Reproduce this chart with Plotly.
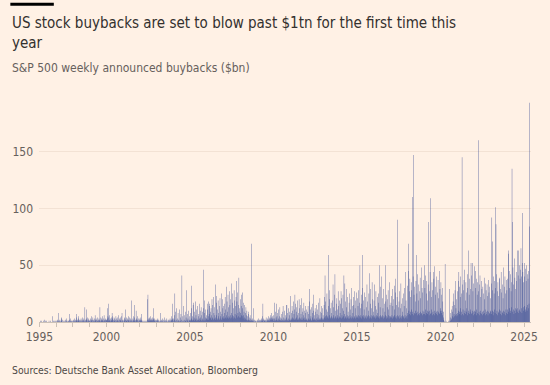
import pandas as pd
import plotly.graph_objects as go

# S&P 500 weekly announced buybacks ($bn), one value per week (Fridays)
wk_1996 = [0,0,0,1,0,0,1,0,0,0,0,1,0, 0,0,2,0,1,0,0,0,0,1,0,0,0, 0,0,0,1,0,0,0,1,0,0,0,0,0, 0,5,0,0,1,0,1,0,0,0,0,1,0]
wk_1997 = [0,1,0,1,2,0,8,1,0,1,0,2,0, 1,0,3,4,1,0,2,0,1,0,0,1,0, 0,1,0,2,0,1,3,0,1,0,0,1,0, 1,0,2,7,1,0,3,1,0,1,0,0,1]
wk_1998 = [1,0,2,1,3,0,1,2,0,1,4,7,1, 0,2,1,3,1,5,2,0,1,2,0,1,3, 1,0,2,1,4,0,2,1,3,0,1,13,2, 1,0,3,11,2,1,4,0,2,1,3,0,1]
wk_1999 = [1,2,0,3,1,5,2,1,0,2,4,1,0, 2,1,3,0,6,2,1,3,0,2,1,4,1, 0,2,1,3,1,2,13,1,0,4,2,1,3, 1,5,2,0,3,1,6,2,1,0,2,3,1,2]
wk_2000 = [2,1,12,3,5,1,16,4,1,6,2,3,1, 0,2,4,1,8,3,5,1,2,0,4,1,3, 1,0,2,5,1,3,0,2,1,4,0,1,6, 2,0,3,1,4,2,1,5,0,8,1,2,0]
wk_2001 = [1,0,2,4,1,3,11,2,0,1,4,1,2, 0,3,1,5,2,1,4,0,2,1,3,0,1, 19,2,0,1,3,5,1,2,15,1,4,0,2, 1,10,2,3,1,5,2,0,1,3,0,2,1]
wk_2002 = [3,1,2,4,1,7,2,1,0,0,1,0,0, 0,1,0,0,1,0,0,1,0,0,20,2,24, 3,1,2,4,1,3,2,1,5,2,1,3,2, 1,4,2,3,12,2,1,3,1,2,0,1,2]
wk_2003 = [1,0,2,1,3,0,1,2,0,1,0,1,0, 8,1,0,2,1,3,0,1,0,2,0,1,4, 0,1,0,2,0,1,3,0,1,0,2,0,1, 2,0,1,3,1,0,2,5,1,2,3,16,2]
wk_2004 = [1,3,0,6,2,25,1,0,9,2,0,12,1, 3,0,8,1,2,0,11,1,0,4,1,7,0, 2,41,1,0,5,1,14,0,2,6,0,1,9, 1,4,28,0,2,7,1,3,0,10,1,2,5,1]
wk_2005 = [2,8,1,32,3,12,2,5,1,15,17,2,4, 1,9,3,18,2,6,1,11,3,2,14,1,5, 2,7,1,16,3,10,2,4,13,1,6,2,9, 3,1,12,46,2,8,19,1,4,11,2,6,3]
wk_2006 = [3,11,2,16,5,18,2,7,14,16,3,9,4, 12,2,6,20,4,15,3,22,2,8,13,3,6, 4,33,2,23,6,17,3,11,2,19,5,8,3, 14,2,21,5,9,3,25,2,7,20,4,12,3]
wk_2007 = [5,14,3,16,8,22,4,11,3,31,6,18,4, 9,24,3,13,5,27,4,15,6,20,3,8,34, 4,17,6,25,3,12,5,28,4,19,7,14,3, 22,6,36,18,4,26,8,15,5,39,12,4,9]
wk_2008 = [8,20,4,14,6,24,5,12,26,3,17,6,9, 4,15,2,8,3,13,2,6,10,2,5,1,7, 2,9,1,4,2,6,1,3,1,2,69,1,3, 1,2,12,1,0,2,0,1,1,0,1,0,0]
wk_2009 = [1,0,2,1,0,3,1,0,2,1,0,1,2, 0,1,3,2,5,1,16,2,0,3,1,2,1, 0,2,1,4,1,0,2,3,1,2,5,1,2, 3,1,4,2,6,3,8,2,4,3,5,2,3]
wk_2010 = [1,6,1,3,17,2,9,1,4,16,2,5,1, 8,2,3,11,1,5,2,13,1,4,2,7,1, 3,1,9,2,14,1,4,2,10,1,3,6,2, 1,15,4,15,2,8,1,12,3,1,6,2,9,1]
wk_2011 = [2,23,3,8,2,14,4,10,2,18,3,7,2, 11,24,3,16,2,9,4,13,2,6,19,3,8, 2,20,4,12,2,15,3,7,2,21,4,9,2, 12,3,6,17,2,10,4,14,2,8,3,11,2]
wk_2012 = [2,9,1,14,3,7,2,18,29,2,11,3,5, 1,13,2,8,4,16,2,10,24,2,6,3,12, 2,9,1,15,3,7,2,11,4,17,2,6,3, 2,21,3,9,2,14,4,8,2,12,3,6,2]
wk_2013 = [3,15,4,22,41,5,18,3,11,6,25,4,9, 5,14,59,3,20,6,28,4,12,3,17,5,8, 4,19,3,33,6,13,4,24,3,42,5,10,4, 16,3,21,6,11,4,27,3,14,5,19,4,8]
wk_2014 = [4,16,27,3,21,6,12,4,24,5,10,41,3, 7,34,4,18,5,29,3,13,6,22,4,9,3, 5,17,3,25,6,11,4,20,3,30,5,14,4, 8,22,3,15,5,27,4,12,3,19,6,26,4]
wk_2015 = [5,21,4,14,6,28,3,17,5,50,4,12,6, 24,3,16,5,30,59,4,19,6,11,3,26,5, 4,22,6,13,3,33,5,18,4,10,6,25,3, 43,5,16,4,29,6,12,3,35,5,20,4,9]
wk_2016 = [6,19,4,33,5,14,3,27,6,11,4,22,5, 8,25,4,17,5,50,3,13,6,31,4,40,5, 4,21,6,12,3,29,5,16,4,9,50,6,18, 3,24,5,13,4,20,28,6,11,3,35,5,15,4]
wk_2017 = [5,17,4,23,6,29,3,14,5,20,4,32,6, 11,4,26,38,5,15,3,22,6,90,4,13,5, 18,3,27,6,12,4,34,5,16,3,21,6,9, 4,25,5,14,3,30,6,44,4,19,5,12,3]
wk_2018 = [8,32,6,45,69,10,27,7,38,9,22,6,35, 11,28,7,110,9,40,6,147,24,8,31,7,18, 10,36,59,8,25,6,42,9,19,7,33,8,27, 6,39,9,21,7,48,8,30,6,26,10,37,7]
wk_2019 = [9,50,7,30,11,41,6,25,8,36,10,19,7, 33,9,88,6,27,10,44,7,109,8,22,11,35, 6,28,9,44,7,38,10,49,6,24,8,31,9, 7,40,10,26,6,37,9,21,8,45,7,29,10]
wk_2020 = [12,35,8,24,10,30,6,18,4,9,2,1,0, 0,51,0,0,1,0,0,0,0,0,0,1,0, 0,0,29,1,4,1,8,2,11,3,14,5,9, 18,4,25,7,15,5,28,6,36,12,7,20,5]
wk_2021 = [8,27,6,36,10,44,7,31,9,22,12,40,6, 25,9,145,7,33,11,28,6,37,8,46,10,19, 7,35,9,26,12,42,6,30,8,63,10,24,7, 38,9,29,11,52,7,41,8,52,10,27,6,34,9]
wk_2022 = [10,49,7,45,9,30,6,38,11,24,8,35,7, 27,160,9,33,6,41,10,22,8,36,7,29,9, 6,31,10,25,7,39,8,20,11,34,6,28,9, 7,33,10,23,6,37,9,26,8,31,7,21,10]
wk_2023 = [9,34,7,92,71,10,28,6,40,9,25,11,36, 8,30,101,86,7,42,10,27,6,35,9,23,8, 11,38,39,7,29,10,44,6,26,9,33,8,21, 10,48,7,31,9,40,6,25,11,37,8,28,7]
wk_2024 = [11,38,63,60,9,45,12,30,8,42,10,27,13, 35,135,88,9,48,11,33,7,56,10,39,12,29, 8,44,11,36,9,63,12,41,8,63,10,50,11, 38,9,46,65,12,40,8,52,96,44,10,35,13]
wk_2025 = [14,40,52,11,47,9,36,13,50,10,42,15,38,12,45,16,84,193]

years = list(range(1996, 2026))
weekly_lists = [wk_1996, wk_1997, wk_1998, wk_1999, wk_2000, wk_2001, wk_2002, wk_2003,
                wk_2004, wk_2005, wk_2006, wk_2007, wk_2008, wk_2009, wk_2010, wk_2011,
                wk_2012, wk_2013, wk_2014, wk_2015, wk_2016, wk_2017, wk_2018, wk_2019,
                wk_2020, wk_2021, wk_2022, wk_2023, wk_2024, wk_2025]

tick_dates = ["1995-12-29", "2000-01-01", "2005-01-01", "2010-01-01",
              "2015-01-01", "2020-01-01", "2025-01-01"]
tick_labels = ["1995", "2000", "2005", "2010", "2015", "2020", "2025"]
y_ticks = [0, 50, 100, 150]

title_line1 = "US stock buybacks are set to blow past $1tn for the first time this"
title_line2 = "year"
subtitle = "S&P 500 weekly announced buybacks ($bn)"
source = "Sources: Deutsche Bank Asset Allocation, Bloomberg"

# build weekly table
dates, values = [], []
for yr, vals in zip(years, weekly_lists):
    fridays = pd.date_range(f"{yr}-01-01", f"{yr}-12-31", freq="W-FRI")
    for d, v in zip(fridays, vals):
        dates.append(d)
        values.append(v)
df = pd.DataFrame({"week": dates, "bn": values})

BG = "#fff1e5"
FONT = "Liberation Sans Narrow, DejaVu Sans Condensed, Roboto, sans-serif"
DAY_MS = 86400000

fig = go.Figure(go.Bar(
    x=df["week"], y=df["bn"],
    width=7.5 * DAY_MS,
    marker=dict(color="rgba(42,62,142,0.999)", line=dict(width=0)),
    hoverinfo="skip",
))

L, R, T, B = 37, 15, 100, 63
W, H = 550, 385
pw, ph = W - L - R, H - T - B


def px_x(px):
    return (px - L) / pw


def px_y(py):
    return (H - B - py) / ph


fig.update_layout(
    width=W, height=H,
    margin=dict(l=L, r=R, t=T, b=B),
    paper_bgcolor=BG, plot_bgcolor=BG,
    showlegend=False,
    font=dict(family=FONT, size=12, color="#66605c"),
    xaxis=dict(
        type="date",
        range=["1995-12-20", "2025-06-01"],
        tickvals=tick_dates, ticktext=tick_labels,
        ticks="outside", ticklen=4, tickcolor="#ccc1b7", tickwidth=1,
        minor=dict(ticks="outside", ticklen=4, tickcolor="#ccc1b7",
                   dtick="M12", tick0="2000-01-01", showgrid=False),
        showgrid=False, showline=True, linecolor="#ccc1b7", linewidth=1,
        zeroline=False,
        tickfont=dict(size=12, color="#66605c"),
    ),
    yaxis=dict(
        range=[0, 195.5],
        tickvals=y_ticks,
        showgrid=True, gridcolor="#f3e2d4", gridwidth=1,
        zeroline=False, showline=False,
        ticks="", ticklabelstandoff=5,
        tickfont=dict(size=12, color="#66605c"),
    ),
)

fig.add_shape(type="rect", xref="paper", yref="paper",
              x0=px_x(8), x1=px_x(52), y0=px_y(5.7), y1=px_y(2.7),
              fillcolor="#000000", line=dict(width=0))

for text, yc, size, color in [
    (title_line1, 23, 15, "#33302e"),
    (title_line2, 43, 15, "#33302e"),
    (subtitle, 68, 12, "#66605c"),
    (source, 370, 10.3, "#4d4845"),
]:
    fig.add_annotation(text=text, xref="paper", yref="paper",
                       x=px_x(8), y=px_y(yc), xanchor="left", yanchor="middle",
                       showarrow=False, align="left",
                       font=dict(size=size, color=color, family=FONT))

fig.write_html("out.html", config={"displayModeBar": False},
               post_script="document.body.style.margin='0';")
